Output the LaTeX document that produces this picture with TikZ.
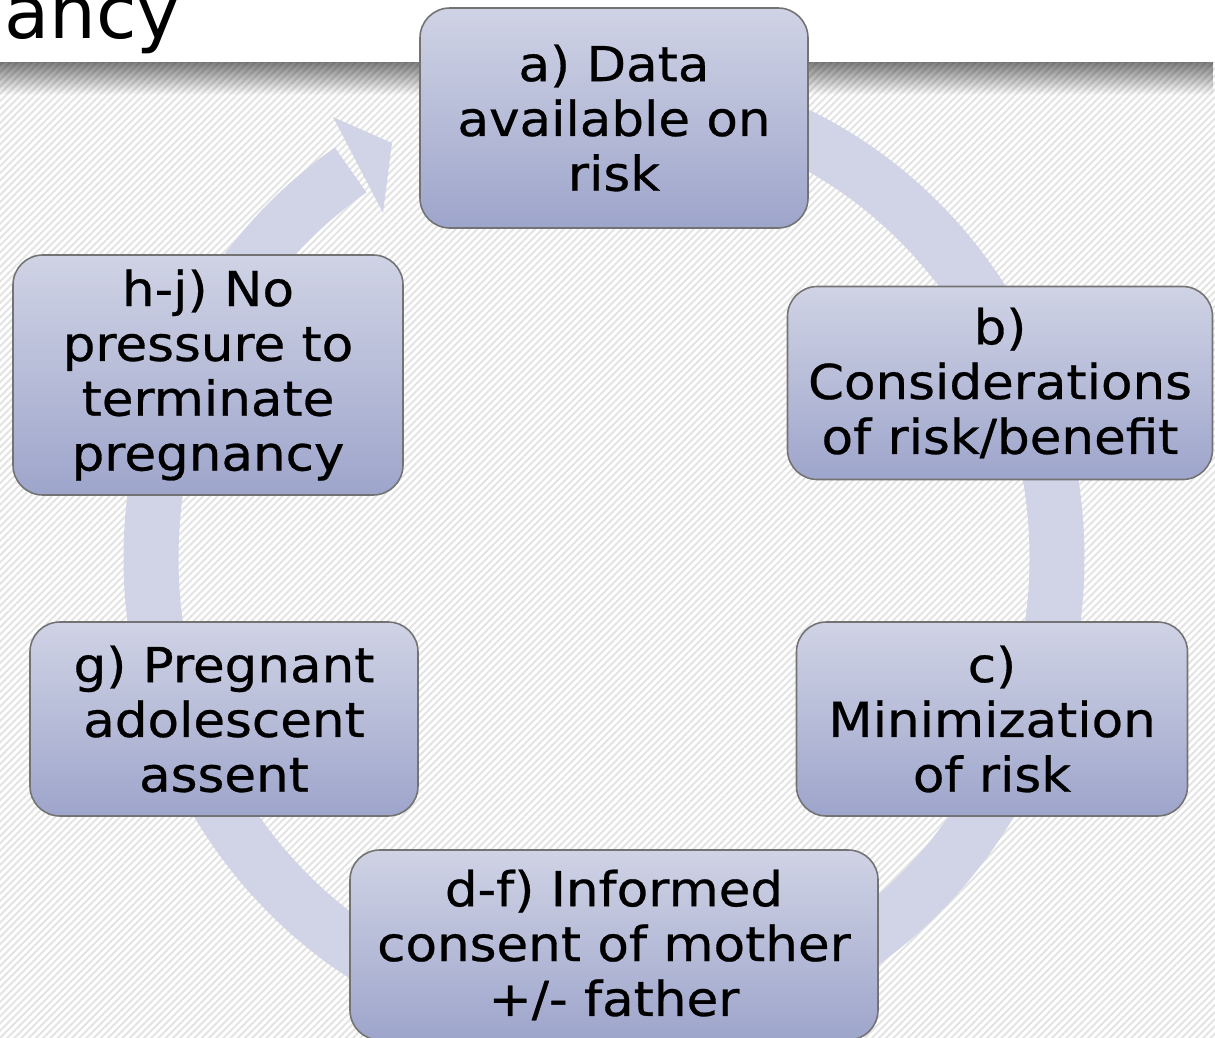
\documentclass[tikz,border=0pt]{standalone}
\usepackage{fontspec}
\newfontfamily\boxfont[FakeStretch=1.07,FakeBold=0.6]{DejaVu Sans}
\newfontfamily\titlefont{DejaVu Sans}
\usetikzlibrary{patterns.meta,fadings}
\definecolor{boxtop}{RGB}{208,211,229}
\definecolor{boxbot}{RGB}{158,165,203}
\definecolor{ringcol}{RGB}{208,212,230}
\begin{document}
\begin{tikzpicture}
    [   x=0.02cm, y=0.02cm,
        cbox/.style 2 args={draw=black!55, line width=0.9pt, rounded corners=17pt,
            top color=boxtop, bottom color=boxbot, inner sep=0pt,
            minimum width=#1*0.02cm, minimum height=#2*0.02cm, align=center,
            font=\boxfont\fontsize{27.4}{31.2}\selectfont},
        ring/.style={draw=ringcol, line width=1.1cm},
    ]
    \clip (0,0) rectangle (1215,-1038);
    \useasboundingbox (0,0) rectangle (1215,-1038);
    % background and title band
    \fill[white] (0,0) rectangle (1215,-1038);
    \fill[pattern={Lines[angle=45,distance=2.9pt,line width=1.1pt]}, pattern color=black!11]
        (0,-62) rectangle (1215,-1038);
    \fill[black, path fading=south, fill opacity=0.5] (0,-62) rectangle (1215,-95);
    \fill[white] (0,0) rectangle (1215,-62);
    \node[anchor=base west, inner sep=0pt, font=\titlefont\fontsize{42}{46}\selectfont] (title) at (4,-38) {ancy};
    % cycle ring with its head
    \draw[ring] (604,-90) arc[start angle=90, end angle=-236, x radius=453, y radius=468];
    \fill[ringcol] (333,-117) -- (392,-143) -- (383,-213) -- cycle;
    % steps
    \node[cbox={388}{220}] (data) at (614,-118) {a) Data\\available on\\risk};
    \node[cbox={425}{193}] (riskben) at (1000,-383) {b)\\Considerations\\of risk/benefit};
    \node[cbox={391}{194}] (minrisk) at (992,-719) {c)\\Minimization\\of risk};
    \node[cbox={528}{190}] (consent) at (614,-945) {d-f) Informed\\consent of mother\\+/- father};
    \node[cbox={388}{194}] (assent) at (224,-719) {g) Pregnant\\adolescent\\assent};
    \node[cbox={390}{240}] (nopress) at (208,-375) {h-j) No\\pressure to\\terminate\\pregnancy};
\end{tikzpicture}
\end{document}
